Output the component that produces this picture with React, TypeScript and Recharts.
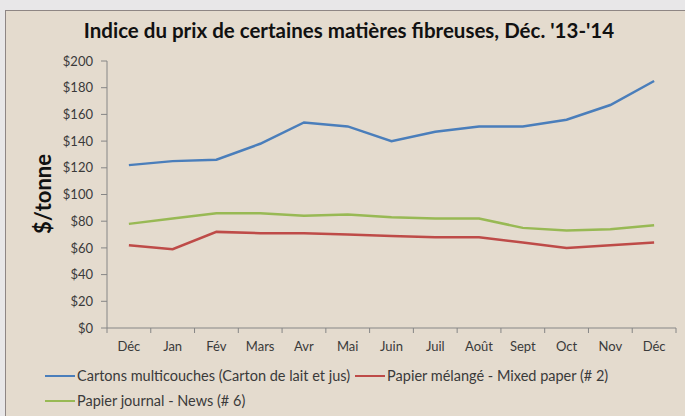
import { LineChart, Line, XAxis, YAxis } from 'recharts';

// Mois (Déc. 2013 à Déc. 2014)
const months = ['Déc', 'Jan', 'Fév', 'Mars', 'Avr', 'Mai', 'Juin', 'Juil', 'Août', 'Sept', 'Oct', 'Nov', 'Déc'];

// $/tonne
const cartons = [122, 125, 126, 138, 154, 151, 140, 147, 151, 151, 156, 167, 185];
const mixedPaper = [62, 59, 72, 71, 71, 70, 69, 68, 68, 64, 60, 62, 64];
const news = [78, 82, 86, 86, 84, 85, 83, 82, 82, 75, 73, 74, 77];

const yTicks = [0, 20, 40, 60, 80, 100, 120, 140, 160, 180, 200];

const series = [
  { key: 'cartons', name: 'Cartons multicouches (Carton de lait et jus)', color: '#4a7ebb' },
  { key: 'mixed', name: 'Papier mélangé - Mixed paper (# 2)', color: '#be4b48' },
  { key: 'news', name: 'Papier journal - News (# 6)', color: '#98b954' },
];

const data = months.map((m, i) => ({
  month: m,
  cartons: cartons[i],
  mixed: mixedPaper[i],
  news: news[i],
}));

const FONT = 'Lato, "Open Sans", sans-serif';
const AXIS = '#868686';
const TEXT = '#3a3a3a';
const PLOT_LEFT = 107;
const PLOT_RIGHT = 676;
const BAND = (PLOT_RIGHT - PLOT_LEFT) / months.length;

function MonthTick(props: any) {
  const { x, y, payload, index } = props;
  const axisY = y - 7;
  const last = index === months.length - 1;
  return (
    <g>
      <line x1={x - BAND / 2} x2={x - BAND / 2} y1={axisY} y2={axisY + 5} stroke={AXIS} />
      {last && <line x1={x + BAND / 2} x2={x + BAND / 2} y1={axisY} y2={axisY + 5} stroke={AXIS} />}
      <text x={x} y={axisY + 23} textAnchor="middle" fontSize={13} fill={TEXT} fontFamily={FONT}>
        {payload.value}
      </text>
    </g>
  );
}

function LegendItem({ color, name }: { color: string; name: string }) {
  return (
    <span style={{ display: 'flex', alignItems: 'center', marginRight: 5 }}>
      <span style={{ display: 'block', width: 30, height: 2, background: color, marginRight: 2 }} />
      <span>{name}</span>
    </span>
  );
}

const rowStyle = { display: 'flex', height: 25, alignItems: 'center' } as const;

export default function App() {
  return (
    <div style={{ position: 'absolute', left: 0, top: 0, width: 685, height: 416, background: '#e8e7e8', overflow: 'hidden' }}>
      <div
        style={{
          position: 'absolute',
          left: 5,
          top: 10,
          width: 690,
          height: 420,
          background: '#e4dbce',
          border: '1px solid #8e8684',
        }}
      />
      <div
        style={{
          position: 'absolute',
          left: 0,
          top: 18,
          width: 698,
          textAlign: 'center',
          fontFamily: FONT,
          fontWeight: 700,
          fontSize: 20.5,
          color: '#111',
        }}
      >
        Indice du prix de certaines matières fibreuses, Déc. '13-'14
      </div>
      <div
        style={{
          position: 'absolute',
          left: 42,
          top: 194,
          transform: 'translate(-50%, -50%) rotate(-90deg)',
          fontFamily: FONT,
          fontWeight: 700,
          fontSize: 22,
          color: '#111',
          whiteSpace: 'nowrap',
        }}
      >
        $/tonne
      </div>
      <div style={{ position: 'absolute', left: 0, top: 0 }}>
        <LineChart width={685} height={416} data={data} margin={{ top: 61, right: 685 - PLOT_RIGHT, left: 0, bottom: 66 }}>
          <XAxis
            dataKey="month"
            interval={0}
            height={22}
            tickSize={5}
            tickLine={false}
            padding={{ left: BAND / 2, right: BAND / 2 }}
            axisLine={{ stroke: AXIS }}
            tick={<MonthTick />}
          />
          <YAxis
            width={PLOT_LEFT}
            domain={[0, 200]}
            ticks={yTicks}
            interval={0}
            tickFormatter={(v: number) => `$${v}`}
            tickSize={6}
            tickMargin={8}
            axisLine={{ stroke: AXIS }}
            tickLine={{ stroke: AXIS }}
            tick={{ fontSize: 13, fill: TEXT, fontFamily: FONT }}
          />
          {series.map((s) => (
            <Line
              key={s.key}
              type="linear"
              dataKey={s.key}
              name={s.name}
              stroke={s.color}
              strokeWidth={2.5}
              dot={false}
              activeDot={false}
              isAnimationActive={false}
            />
          ))}
        </LineChart>
      </div>
      <div
        style={{
          position: 'absolute',
          left: 45,
          top: 363,
          width: 635,
          fontFamily: FONT,
          fontSize: 14.5,
          color: TEXT,
        }}
      >
        <div style={rowStyle}>
          <LegendItem color={series[0].color} name={series[0].name} />
          <LegendItem color={series[1].color} name={series[1].name} />
        </div>
        <div style={rowStyle}>
          <LegendItem color={series[2].color} name={series[2].name} />
        </div>
      </div>
    </div>
  );
}
